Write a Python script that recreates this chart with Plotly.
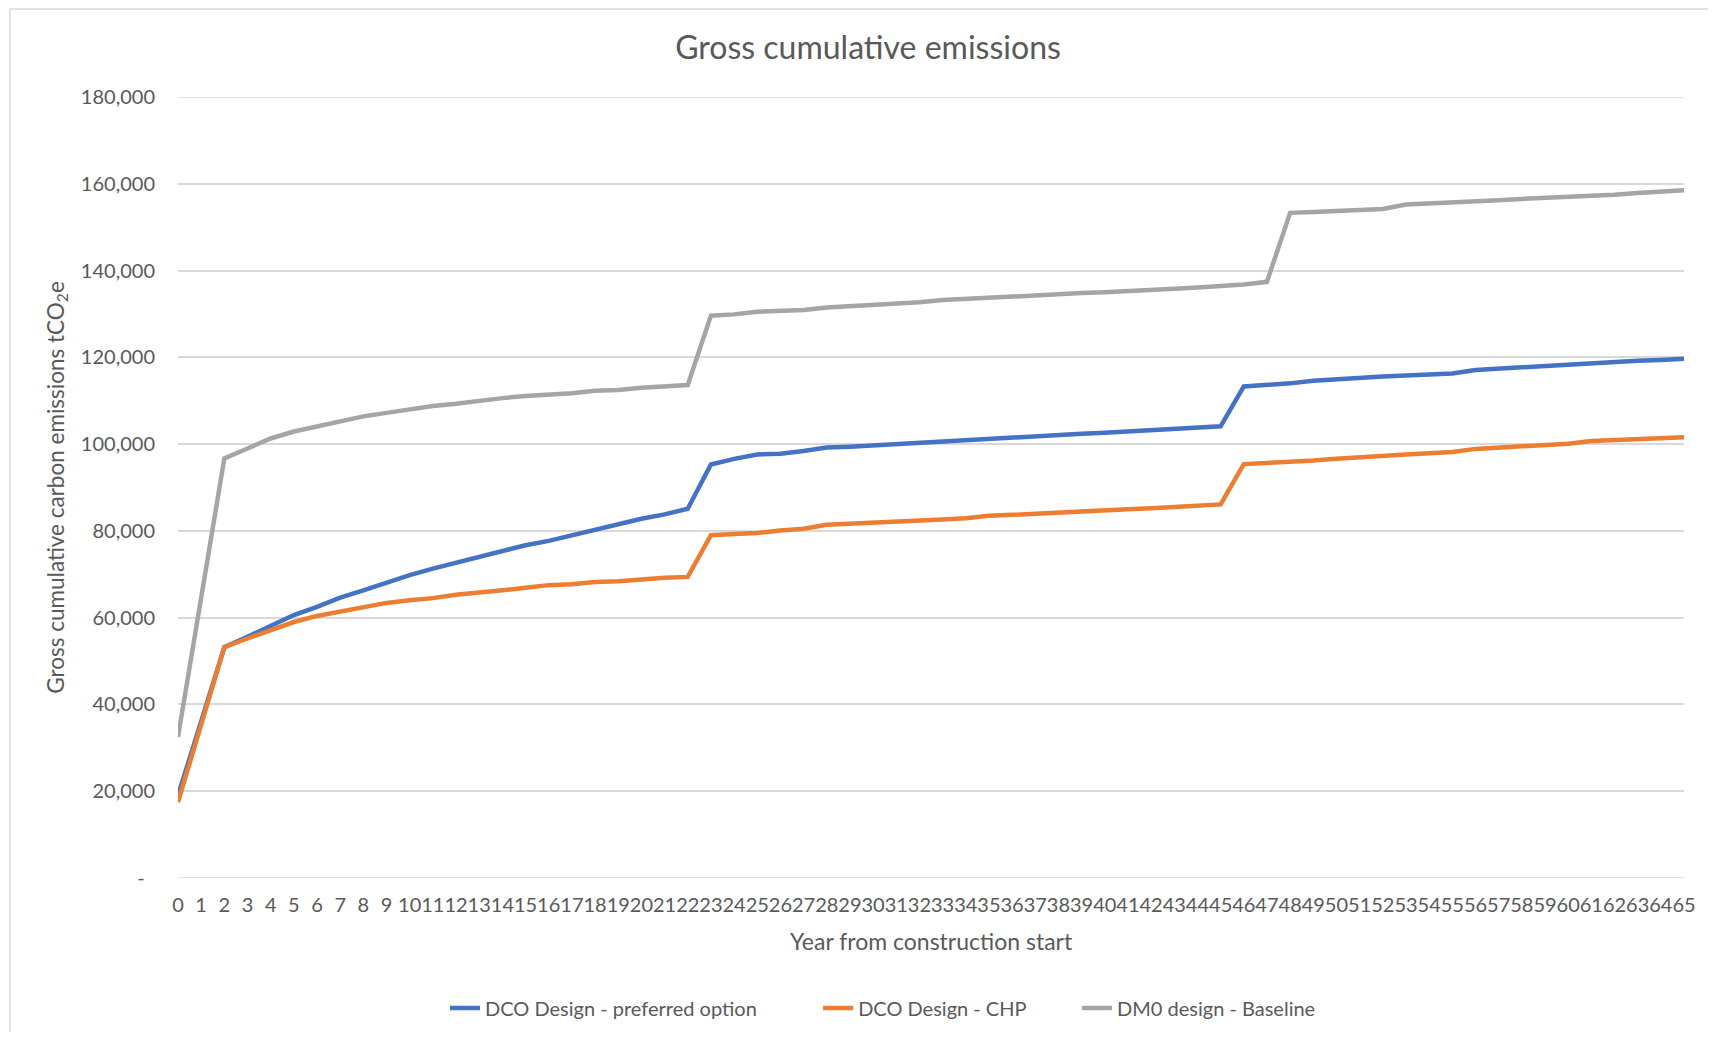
import plotly.graph_objects as go

years = list(range(66))

preferred = [19000, 36000, 53200, 55600, 58100, 60600, 62500, 64600, 66300, 68100,
             69800, 71300, 72600, 74000, 75400, 76700, 77700, 79000, 80300, 81400,
             82800, 83800, 85100, 95300, 96600, 97600, 97800, 98400, 99200, 99400,
             99700, 100000, 100300, 100600, 100900, 101400, 101700, 101900, 102200, 102400,
             102600, 102900, 103200, 103500, 103800, 104100, 113300, 113600, 114000, 114600,
             115000, 115300, 115600, 115800, 116100, 116300, 117100, 117400, 117900, 118200,
             118400, 118700, 119000, 119200, 119400, 119700]

chp = [17500, 35300, 53200, 55200, 57100, 59000, 60400, 61400, 62400, 63400,
       64000, 64500, 65300, 65700, 66300, 66900, 67500, 67700, 68200, 68400,
       68900, 69200, 69400, 79000, 79300, 79500, 80100, 80500, 81400, 81600,
       81900, 82100, 82300, 82600, 82900, 83500, 83700, 84000, 84200, 84500,
       84700, 85000, 85200, 85500, 85800, 86100, 95400, 95600, 96000, 96200,
       96600, 97000, 97300, 97600, 97900, 98200, 98900, 99200, 99400, 99700,
       100100, 100700, 100900, 101100, 101300, 101600]

baseline = [32500, 64000, 96700, 99000, 101300, 102900, 104000, 105200, 106400, 107200,
            108100, 108800, 109300, 110000, 110600, 111100, 111300, 111700, 112300, 112500,
            113000, 113300, 113600, 129600, 129900, 130500, 130700, 130900, 131500, 131800,
            132100, 132300, 132700, 133200, 133500, 133700, 134000, 134200, 134500, 134800,
            135000, 135200, 135500, 135800, 136100, 136400, 136800, 137400, 153300, 153500,
            153700, 153900, 154200, 155200, 155400, 155700, 155900, 156200, 156500, 156700,
            156900, 157300, 157500, 157900, 158200, 158500]

series_names = ["DCO Design - preferred option", "DCO Design - CHP", "DM0 design - Baseline"]
series_colors = ["#4472C4", "#ED7D31", "#A5A5A5"]

y_tickvals = [0, 20000, 40000, 60000, 80000, 100000, 120000, 140000, 160000, 180000]
y_ticktext = ["-\u00a0\u00a0", "20,000", "40,000", "60,000", "80,000", "100,000",
              "120,000", "140,000", "160,000", "180,000"]

FONT = "Lato"
TXT = "#595959"
GRID = "#D9D9D9"

W, H = 1700, 1024
L, R, T, B = 169.5, 15.5, 88.5, 154
PW = W - L - R
PH = H - T - B

# trailing spacing so legend entries are spread like the original
legend_pad = [11, 9, 0]

fig = go.Figure()
for name, vals, col, pad in zip(series_names, [preferred, chp, baseline], series_colors, legend_pad):
    fig.add_trace(go.Scatter(x=years, y=vals, mode="lines", name=name + "\u00a0" * pad,
                             line=dict(color=col, width=4.5)))

fig.update_layout(
    width=W, height=H,
    margin=dict(l=L, r=R, t=T, b=B, pad=0),
    paper_bgcolor="white", plot_bgcolor="white",
    font=dict(family=FONT, color=TXT, size=19),
    title=dict(text="Gross cumulative emissions", x=860 / W, xanchor="center",
               y=1 - 40 / H, yanchor="middle", yref="container",
               font=dict(family=FONT, size=32, color=TXT)),
    showlegend=True,
    legend=dict(orientation="h", xref="container", yref="container",
                x=437 / W, xanchor="left", y=1 - 1000 / H, yanchor="middle",
                font=dict(family=FONT, size=20, color=TXT), itemwidth=30),
    xaxis=dict(range=[0, 65], tickmode="array", tickvals=years,
               ticktext=[str(v) for v in years], tickangle=0,
               showgrid=False, zeroline=False, showline=False, ticks="",
               ticklabelstandoff=13, tickfont=dict(size=20, family=FONT, color=TXT)),
    yaxis=dict(range=[0, 180000], tickmode="array", tickvals=y_tickvals, ticktext=y_ticktext,
               showgrid=True, gridcolor=GRID, gridwidth=1.5, zeroline=False, showline=False,
               ticks="", ticklabelstandoff=22, tickfont=dict(size=20, family=FONT, color=TXT)),
    annotations=[
        dict(text="Year from construction start", xref="paper", yref="paper",
             x=0.5, y=1 - (933 - T) / PH, xanchor="center", yanchor="middle",
             showarrow=False, font=dict(family=FONT, size=23, color=TXT)),
        dict(text="Gross cumulative carbon emissions tCO<sub>2</sub>e", xref="paper", yref="paper",
             x=(47 - L) / PW, y=0.5, xanchor="center", yanchor="middle", textangle=-90,
             showarrow=False, font=dict(family=FONT, size=22.5, color=TXT)),
    ],
    shapes=[
        dict(type="line", xref="paper", yref="y", x0=0, x1=1,
             y0=y_tickvals[0], y1=y_tickvals[0], line=dict(color=GRID, width=1.5), layer="below"),
        dict(type="line", xref="paper", yref="y", x0=0, x1=1,
             y0=y_tickvals[-1], y1=y_tickvals[-1], line=dict(color=GRID, width=1.5), layer="below"),
        dict(type="line", xref="paper", yref="paper", x0=(0.5 - L) / PW, x1=(0.5 - L) / PW,
             y0=1 + (T - 0.5) / PH, y1=-0.3, line=dict(color=GRID, width=1.5)),
        dict(type="line", xref="paper", yref="paper", x0=(0.5 - L) / PW, x1=1.2,
             y0=1 + (T - 0.5) / PH, y1=1 + (T - 0.5) / PH, line=dict(color=GRID, width=1.5)),
    ],
)

fig.write_html("out.html")
